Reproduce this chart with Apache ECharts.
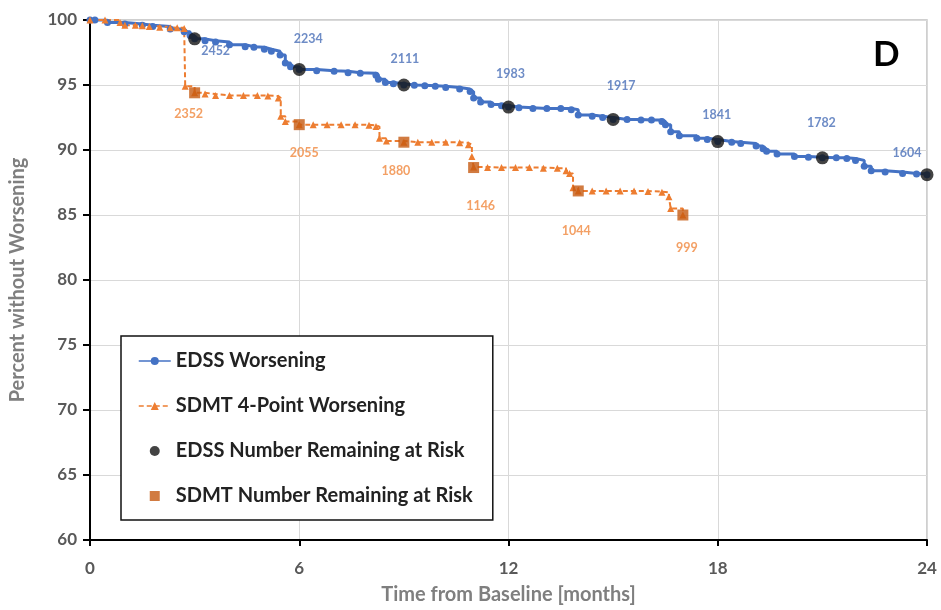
<!DOCTYPE html>
<html>
<head>
<meta charset="utf-8">
<script src="https://cdn.jsdelivr.net/npm/echarts@6/dist/echarts.min.js"></script>
<style>html,body{margin:0;padding:0;background:#fff}#c{width:941px;height:610px}</style>
</head>
<body>
<div id="c"></div>
<script>
// ---- data ----
const edssCurve = [[0,100],[0.14,100],[0.5,99.8],[1.0,99.7],[1.5,99.6],[1.8,99.5],[2.3,99.3],[2.7,99.1],[2.87,98.8],[3.0,98.55],[3.3,98.4],[3.6,98.3],[4.0,98.1],[4.45,97.95],[4.7,97.9],[5.0,97.75],[5.2,97.6],[5.45,97.3],[5.6,96.7],[5.75,96.4],[6.0,96.2],[6.5,96.1],[7.0,96.05],[7.4,95.95],[7.75,95.9],[8.2,95.75],[8.27,95.45],[8.47,95.2],[8.7,95.1],[9.0,95.0],[9.3,94.98],[9.6,94.95],[9.9,94.9],[10.2,94.8],[10.6,94.7],[10.9,94.5],[11.0,94.0],[11.2,93.7],[11.5,93.5],[11.8,93.4],[12.0,93.3],[12.3,93.25],[12.7,93.2],[13.1,93.2],[13.5,93.2],[13.8,93.1],[14.0,92.7],[14.4,92.6],[14.7,92.5],[15.0,92.35],[15.4,92.35],[15.8,92.3],[16.1,92.3],[16.4,92.2],[16.5,91.95],[16.65,91.4],[16.9,91.1],[17.4,90.9],[17.7,90.8],[18.0,90.65],[18.4,90.6],[18.66,90.5],[19.1,90.3],[19.3,90.1],[19.4,89.9],[19.7,89.7],[20.2,89.5],[20.6,89.45],[21.0,89.4],[21.4,89.4],[21.7,89.35],[21.95,89.2],[22.2,88.75],[22.4,88.4],[22.8,88.3],[23.3,88.2],[23.7,88.15],[24.0,88.1]];
const sdmtCurve = [[0,100],[0.43,100],[0.86,99.8],[1.0,99.6],[1.3,99.6],[1.5,99.55],[1.7,99.5],[2.0,99.45],[2.3,99.4],[2.5,99.4],[2.7,99.35],[2.73,94.9],[3.0,94.4],[3.3,94.3],[3.6,94.2],[4.0,94.2],[4.4,94.2],[4.8,94.2],[5.1,94.15],[5.4,94.0],[5.47,92.6],[5.6,92.2],[6.0,91.95],[6.4,91.95],[6.8,91.95],[7.2,91.95],[7.6,91.95],[8.0,91.9],[8.2,91.8],[8.3,90.9],[8.5,90.7],[9.0,90.6],[9.4,90.6],[9.8,90.6],[10.2,90.6],[10.6,90.55],[10.85,90.4],[10.95,89.5],[11.0,88.7],[11.4,88.65],[11.8,88.65],[12.2,88.65],[12.6,88.65],[13.0,88.6],[13.4,88.6],[13.65,88.4],[13.75,88.2],[13.85,87.1],[14.0,86.85],[14.4,86.85],[14.8,86.85],[15.2,86.85],[15.6,86.85],[16.0,86.8],[16.4,86.75],[16.6,86.4],[16.65,85.5],[17.0,85.0]];
const edssRiskMonths = [3,6,9,12,15,18,21,24];
const edssRiskValues = [98.55,96.2,95.0,93.3,92.35,90.65,89.4,88.1];
const edssRiskCounts = [2452,2234,2111,1983,1917,1841,1782,1604];
const sdmtRiskMonths = [3,6,9,11,14,17];
const sdmtRiskValues = [94.4,91.95,90.6,88.65,86.85,85.0];
const sdmtRiskCounts = [2352,2055,1880,1146,1044,999];
const xTicks = [0,6,12,18,24];
const yTicks = [60,65,70,75,80,85,90,95,100];

// ---- label placement (style) ----
const edssLabelOffsets = [[21,12],[9,-30],[1,-26],[2,-33],[8,-33],[-1,-27],[-1,-35],[-20,-22]];
const sdmtLabelOffsets = [[-6,21],[5,28],[-8,29],[7,38],[-2,40],[4,33]];

const FONT = 'Lato';
const chart = echarts.init(document.getElementById('c'));
const option = {
  animation: false,
  backgroundColor: '#fff',
  grid: {left: 90, right: 14, top: 20, bottom: 63, show: true, borderColor: '#c0c0c0', borderWidth: 1.5},
  xAxis: {
    type: 'value', min: xTicks[0], max: xTicks[xTicks.length-1], interval: 6,
    name: 'Time from Baseline [months]', nameLocation: 'middle', nameGap: 45,
    nameTextStyle: {fontFamily: FONT, fontSize: 20, fontWeight: 'bold', color: '#7f7f7f'},
    axisLine: {show: true, onZero: false, lineStyle: {color: '#000', width: 2}},
    axisTick: {show: true, length: 6, lineStyle: {color: '#000', width: 2}},
    axisLabel: {fontFamily: FONT, fontSize: 17, fontWeight: 'bold', color: '#595959', margin: 20},
    splitLine: {show: true, lineStyle: {color: '#d9d9d9', width: 1}}
  },
  yAxis: {
    type: 'value', min: yTicks[0], max: yTicks[yTicks.length-1], interval: 5,
    name: 'Percent without Worsening', nameLocation: 'middle', nameGap: 62,
    nameTextStyle: {fontFamily: FONT, fontSize: 20, fontWeight: 'bold', color: '#7f7f7f'},
    axisLine: {show: true, onZero: false, lineStyle: {color: '#000', width: 2}},
    axisTick: {show: true, length: 7, lineStyle: {color: '#000', width: 2}},
    axisLabel: {fontFamily: FONT, fontSize: 17, fontWeight: 'bold', color: '#595959', margin: 13},
    splitLine: {show: true, lineStyle: {color: '#d9d9d9', width: 1}}
  },
  legend: {
    orient: 'vertical', left: 121, top: 336,
    padding: [15, 20, 14, 17],
    borderColor: '#111', borderWidth: 1.5, backgroundColor: '#fff',
    itemWidth: 32, itemHeight: 10, itemGap: 25, symbolKeepAspect: true,
    textStyle: {fontFamily: FONT, fontSize: 20, fontWeight: 'bold', color: '#222', lineHeight: 20},
    data: [
      {name: 'EDSS Worsening', lineStyle: {width: 1.5}},
      {name: 'SDMT 4-Point Worsening', lineStyle: {width: 1.5}},
      {name: 'EDSS Number Remaining at Risk', icon: 'circle'},
      {name: 'SDMT Number Remaining at Risk', icon: 'path://M0,0L10,0L10,10L0,10Z', itemStyle: {color: '#C55A11'}}
    ]
  },
  graphic: [{
    type: 'text', left: 873, top: 37,
    style: {text: 'D', fontFamily: FONT, fontSize: 35, fontWeight: 'bold', fill: '#000'}
  }],
  series: [
    {
      name: 'EDSS Worsening', type: 'line', step: 'end', data: edssCurve,
      symbol: 'circle', symbolSize: 7, color: '#4472C4',
      lineStyle: {color: '#4472C4', width: 3},
      itemStyle: {color: '#4472C4'}, z: 3
    },
    {
      name: 'SDMT 4-Point Worsening', type: 'line', step: 'end', data: sdmtCurve,
      symbol: 'triangle', symbolSize: 7, color: '#ED7D31',
      lineStyle: {color: '#ED7D31', width: 2, type: [5, 3]},
      itemStyle: {color: '#ED7D31'}, z: 3
    },
    {
      name: 'EDSS Number Remaining at Risk', type: 'scatter', symbol: 'circle', symbolSize: 13,
      itemStyle: {color: '#141414'}, z: 5,
      data: edssRiskMonths.map((m, i) => ({
        value: [m, edssRiskValues[i]],
        label: {show: true, position: 'inside', offset: edssLabelOffsets[i], formatter: String(edssRiskCounts[i]),
          fontFamily: FONT, fontSize: 12.5, fontWeight: 'bold', color: '#4a6fb8'}
      }))
    },
    {
      name: 'SDMT Number Remaining at Risk', type: 'scatter', symbol: 'rect', symbolSize: 11,
      itemStyle: {color: '#C55A11'}, z: 5,
      data: sdmtRiskMonths.map((m, i) => ({
        value: [m, sdmtRiskValues[i]],
        label: {show: true, position: 'inside', offset: sdmtLabelOffsets[i], formatter: String(sdmtRiskCounts[i]),
          fontFamily: FONT, fontSize: 12.5, fontWeight: 'bold', color: '#F0883E'}
      }))
    }
  ]
};
chart.setOption(option);
</script>
</body>
</html>
